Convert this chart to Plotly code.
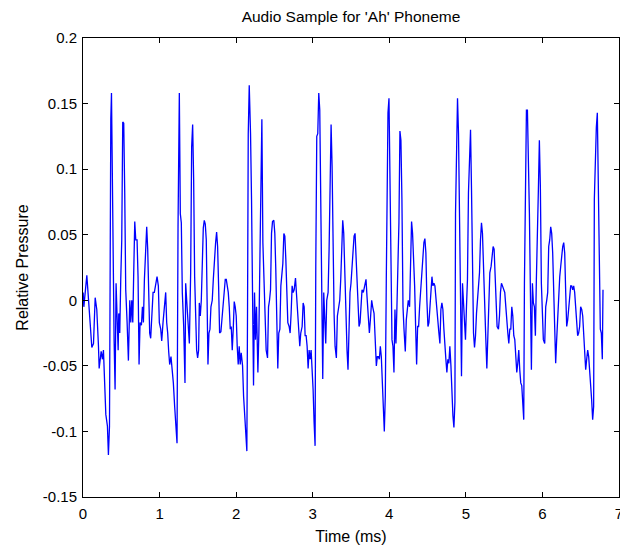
import plotly.graph_objects as go

# Time (ms) and relative pressure, in five windows
time_a = [0.002, 0.011, 0.050, 0.072, 0.093, 0.115, 0.137, 0.159, 0.180, 0.202, 0.211, 0.237, 0.254, 0.267, 0.280,
          0.298, 0.319, 0.332, 0.346, 0.354, 0.363, 0.372, 0.380, 0.393, 0.406, 0.419, 0.432, 0.445, 0.459, 0.467,
          0.480, 0.493, 0.506, 0.519, 0.532, 0.545, 0.558, 0.576, 0.593, 0.611, 0.624, 0.637, 0.650, 0.663, 0.676,
          0.689, 0.706, 0.719, 0.732, 0.745, 0.763, 0.776, 0.789, 0.802, 0.815, 0.832, 0.845, 0.858, 0.871, 0.884,
          0.897, 0.915, 0.932, 0.945, 0.967, 0.984, 0.997, 1.015, 1.028, 1.045, 1.063, 1.080, 1.093, 1.106, 1.119,
          1.132, 1.149, 1.163, 1.180, 1.197, 1.215, 1.228, 1.241, 1.250, 1.258, 1.271, 1.284, 1.297, 1.315, 1.332,
          1.341, 1.354, 1.367]
pres_a = [0.006, -0.005, 0.019, 0.004, -0.017, -0.036, -0.033, 0.002, -0.007, -0.035, -0.052, -0.039, -0.045, -0.038, -0.060,
          -0.087, -0.096, -0.118, -0.096, 0.102, 0.138, 0.158, 0.105, 0.046, -0.030, -0.068, 0.013, -0.012, -0.038, -0.010,
          -0.025, 0.016, 0.046, 0.136, 0.135, 0.082, 0.008, -0.017, -0.046, 0.000, -0.017, 0.000, -0.017, 0.023, 0.060,
          0.046, 0.046, 0.018, -0.049, -0.017, -0.019, -0.005, -0.017, 0.016, 0.039, 0.056, 0.039, 0.013, -0.025, -0.029,
          -0.017, 0.006, 0.006, 0.011, 0.018, 0.011, -0.017, -0.022, -0.031, -0.017, -0.002, 0.006, -0.017, -0.025, -0.039,
          -0.049, -0.043, -0.052, -0.063, -0.081, -0.099, -0.109, 0.056, 0.125, 0.158, 0.066, 0.059, 0.006, -0.020, -0.063,
          0.013, 0.000, -0.012]

time_b = [1.389, 1.406, 1.419, 1.432, 1.445, 1.458, 1.471, 1.484, 1.497, 1.510, 1.519, 1.532, 1.545, 1.558, 1.571,
          1.584, 1.597, 1.610, 1.619, 1.632, 1.645, 1.658, 1.671, 1.688, 1.702, 1.715, 1.732, 1.745, 1.758, 1.771,
          1.784, 1.801, 1.814, 1.827, 1.840, 1.858, 1.871, 1.884, 1.897, 1.910, 1.923, 1.936, 1.949, 1.962, 1.975,
          1.988, 2.001, 2.014, 2.027, 2.040, 2.053, 2.066, 2.084, 2.097, 2.114, 2.127, 2.140, 2.149, 2.158, 2.171,
          2.188, 2.201, 2.214, 2.227, 2.240, 2.253, 2.266, 2.284, 2.297, 2.310, 2.323, 2.336, 2.349, 2.366, 2.379,
          2.392, 2.410, 2.423, 2.436, 2.449, 2.462, 2.475, 2.492, 2.505, 2.518, 2.531, 2.544, 2.557, 2.571, 2.584,
          2.597, 2.610, 2.623, 2.636, 2.649, 2.662, 2.675, 2.692, 2.705, 2.718, 2.731, 2.744]
pres_b = [-0.033, 0.021, 0.117, 0.134, 0.092, 0.018, -0.017, -0.038, -0.044, -0.038, -0.002, -0.012, 0.000, 0.041, 0.055,
          0.061, 0.058, 0.046, 0.016, -0.049, -0.025, -0.022, -0.005, 0.000, 0.016, 0.034, 0.044, 0.052, 0.041, 0.011,
          -0.025, -0.024, -0.016, -0.002, 0.006, 0.016, 0.016, 0.011, 0.006, -0.005, -0.022, -0.020, -0.038, -0.022, -0.001,
          -0.005, -0.012, -0.035, -0.049, -0.035, -0.049, -0.040, -0.050, -0.073, -0.093, -0.109, -0.115, -0.005, 0.127, 0.164,
          0.127, 0.077, 0.011, -0.065, 0.006, -0.030, -0.005, -0.055, -0.025, 0.036, 0.105, 0.138, 0.044, 0.006, -0.025,
          -0.038, -0.044, -0.005, 0.000, 0.008, 0.051, 0.060, 0.061, 0.051, 0.023, -0.027, -0.052, -0.025, -0.022, 0.011,
          0.023, 0.028, 0.051, 0.049, 0.031, 0.000, -0.017, -0.020, -0.025, -0.010, 0.011, 0.006]

time_c = [2.758, 2.775, 2.788, 2.801, 2.814, 2.831, 2.844, 2.862, 2.875, 2.888, 2.901, 2.914, 2.927, 2.940, 2.953,
          2.966, 2.979, 2.992, 3.005, 3.018, 3.031, 3.040, 3.053, 3.066, 3.079, 3.092, 3.105, 3.118, 3.131, 3.144,
          3.157, 3.170, 3.183, 3.201, 3.214, 3.227, 3.240, 3.253, 3.266, 3.279, 3.292, 3.309, 3.322, 3.335, 3.353,
          3.366, 3.379, 3.392, 3.405, 3.418, 3.435, 3.448, 3.461, 3.474, 3.487, 3.500, 3.513, 3.527, 3.540, 3.553,
          3.566, 3.579, 3.592, 3.605, 3.618, 3.631, 3.644, 3.661, 3.679, 3.696, 3.709, 3.722, 3.740, 3.753, 3.770,
          3.783, 3.801, 3.814, 3.831, 3.844, 3.857, 3.870, 3.883, 3.896, 3.909, 3.922, 3.935, 3.948, 3.961, 3.970,
          3.983, 3.996, 4.009, 4.022, 4.035, 4.048, 4.061]
pres_c = [0.008, 0.017, 0.006, -0.010, -0.024, -0.035, -0.025, -0.020, -0.002, -0.005, -0.027, -0.027, -0.035, -0.052, -0.038,
          -0.045, -0.038, -0.050, -0.068, -0.093, -0.111, 0.026, 0.125, 0.127, 0.158, 0.145, 0.079, 0.003, -0.060, 0.006,
          -0.015, -0.033, 0.000, 0.006, 0.039, 0.100, 0.134, 0.102, 0.039, -0.010, -0.035, -0.044, -0.012, -0.005, 0.000,
          0.016, 0.046, 0.061, 0.051, 0.021, -0.017, -0.038, -0.053, -0.017, 0.006, 0.013, 0.026, 0.039, 0.049, 0.051,
          0.031, 0.013, -0.012, -0.020, -0.017, -0.002, 0.008, 0.006, 0.011, 0.016, 0.003, -0.010, -0.025, -0.015, 0.000,
          -0.005, -0.010, -0.027, -0.050, -0.043, -0.043, -0.045, -0.035, -0.043, -0.058, -0.081, -0.100, -0.073, 0.016, 0.107,
          0.143, 0.154, 0.100, 0.036, -0.030, -0.035, -0.055]

time_d = [4.074, 4.087, 4.100, 4.113, 4.126, 4.139, 4.152, 4.165, 4.179, 4.192, 4.209, 4.222, 4.235, 4.248, 4.265,
          4.278, 4.291, 4.304, 4.318, 4.331, 4.344, 4.357, 4.370, 4.383, 4.396, 4.409, 4.426, 4.439, 4.452, 4.465,
          4.478, 4.491, 4.505, 4.518, 4.531, 4.544, 4.557, 4.570, 4.583, 4.596, 4.609, 4.622, 4.635, 4.648, 4.661,
          4.674, 4.687, 4.700, 4.713, 4.726, 4.739, 4.752, 4.765, 4.778, 4.791, 4.805, 4.818, 4.831, 4.844, 4.857,
          4.865, 4.878, 4.891, 4.904, 4.917, 4.930, 4.943, 4.956, 4.969, 4.982, 4.995, 5.008, 5.021, 5.034, 5.048,
          5.061, 5.074, 5.087, 5.100, 5.113, 5.126, 5.139, 5.152, 5.165, 5.178, 5.191, 5.204, 5.217, 5.230, 5.248,
          5.261, 5.274, 5.287, 5.300, 5.313, 5.330, 5.343, 5.356, 5.369, 5.382, 5.395, 5.408, 5.426, 5.439, 5.452,
          5.465, 5.478]
pres_d = [-0.007, -0.033, -0.005, 0.023, 0.059, 0.129, 0.122, 0.077, -0.005, -0.022, -0.039, -0.015, -0.007, 0.000, -0.005,
          0.036, 0.060, 0.051, 0.034, 0.011, -0.020, -0.049, -0.020, -0.020, -0.005, 0.006, 0.023, 0.034, 0.044, 0.047,
          0.036, 0.000, -0.020, -0.017, -0.005, 0.011, 0.018, 0.011, 0.013, 0.011, 0.000, -0.010, -0.017, -0.025, -0.033,
          -0.007, -0.002, -0.007, -0.022, -0.038, -0.045, -0.055, -0.045, -0.048, -0.035, -0.050, -0.073, -0.088, -0.097, -0.078,
          0.066, 0.120, 0.154, 0.127, 0.059, -0.012, -0.058, 0.013, 0.000, -0.015, -0.030, -0.005, 0.016, 0.082, 0.112,
          0.130, 0.084, 0.016, -0.025, -0.036, -0.027, -0.010, 0.003, 0.011, 0.021, 0.046, 0.059, 0.051, 0.021, -0.015,
          -0.030, -0.052, -0.030, -0.012, 0.021, 0.026, 0.036, 0.041, 0.039, 0.016, -0.005, -0.020, -0.022, -0.012, 0.006,
          0.013, 0.011]

time_e = [5.495, 5.508, 5.522, 5.535, 5.548, 5.561, 5.574, 5.587, 5.600, 5.613, 5.626, 5.639, 5.652, 5.665, 5.678,
          5.691, 5.704, 5.717, 5.730, 5.743, 5.756, 5.765, 5.778, 5.791, 5.804, 5.817, 5.830, 5.843, 5.856, 5.869,
          5.882, 5.895, 5.908, 5.921, 5.934, 5.947, 5.960, 5.973, 5.986, 5.999, 6.012, 6.030, 6.043, 6.056, 6.069,
          6.082, 6.095, 6.108, 6.121, 6.134, 6.147, 6.160, 6.173, 6.186, 6.200, 6.213, 6.226, 6.239, 6.252, 6.265,
          6.278, 6.291, 6.304, 6.317, 6.330, 6.343, 6.356, 6.369, 6.382, 6.395, 6.408, 6.421, 6.434, 6.447, 6.460,
          6.473, 6.486, 6.499, 6.513, 6.526, 6.539, 6.552, 6.565, 6.578, 6.591, 6.604, 6.617, 6.630, 6.643, 6.656,
          6.669, 6.678, 6.691, 6.704, 6.717, 6.730, 6.743, 6.756, 6.769, 6.782, 6.791]
pres_e = [0.008, 0.006, -0.005, -0.020, -0.025, -0.033, -0.022, -0.022, -0.005, -0.012, -0.027, -0.030, -0.040, -0.055, -0.048,
          -0.038, -0.053, -0.063, -0.065, -0.076, -0.091, 0.013, 0.117, 0.145, 0.145, 0.115, 0.066, 0.006, -0.053, 0.013,
          -0.002, -0.005, -0.027, 0.016, 0.044, 0.084, 0.122, 0.087, 0.013, -0.017, -0.030, -0.033, -0.005, 0.000, 0.006,
          0.041, 0.046, 0.056, 0.051, 0.036, 0.006, -0.030, -0.048, -0.030, -0.012, 0.006, 0.018, 0.026, 0.034, 0.041,
          0.044, 0.036, 0.006, -0.020, -0.015, -0.005, 0.006, 0.011, 0.011, 0.008, 0.011, 0.006, -0.005, -0.015, -0.027,
          -0.025, -0.020, -0.005, -0.007, -0.012, -0.025, -0.038, -0.053, -0.045, -0.038, -0.043, -0.053, -0.065, -0.076, -0.091,
          -0.081, 0.077, 0.115, 0.132, 0.143, 0.097, 0.039, -0.022, -0.025, -0.045, 0.008]

y_tick_vals = [0.2, 0.15, 0.1, 0.05, 0, -0.05, -0.1, -0.15]
y_tick_text = ["0.2", "0.15", "0.1", "0.05", "0", "-0.05", "-0.1", "-0.15"]
x_tick_vals = [0, 1, 2, 3, 4, 5, 6, 7]

time_ms = time_a + time_b + time_c + time_d + time_e
pressure = pres_a + pres_b + pres_c + pres_d + pres_e

FONT = "Liberation Sans, Arial, sans-serif"

# The page body adds an 8 px offset, so the figure is 8 px smaller than the window on each axis.
W, H = 620, 538
fig = go.Figure(go.Scatter(x=time_ms, y=pressure, mode="lines",
                           line=dict(color="#0000FF", width=1.3), hoverinfo="skip"))

fig.update_layout(
    width=W, height=H,
    margin=dict(l=74.5, r=8.5, t=30, b=48.5, autoexpand=False),
    paper_bgcolor="white", plot_bgcolor="white",
    showlegend=False,
    font=dict(family=FONT, size=15, color="black"),
    title=dict(text="Audio Sample for 'Ah' Phoneme", x=343 / W, xanchor="center",
               y=1 - 9 / H, yanchor="middle", yref="container", automargin=False,
               font=dict(family=FONT, size=15.5, color="black")),
)
fig.update_xaxes(range=[0, 7], tickvals=x_tick_vals, ticks="inside", ticklen=5, tickcolor="black",
                 showline=True, linecolor="black", linewidth=1, mirror="ticks", showgrid=False, zeroline=False,
                 automargin=False, ticklabelstandoff=3,
                 title=dict(text="Time (ms)", standoff=9, font=dict(size=16)), tickfont=dict(size=15))
fig.update_yaxes(range=[-0.15, 0.2], tickvals=y_tick_vals, ticktext=y_tick_text, ticks="inside", ticklen=5,
                 tickcolor="black", showline=True, linecolor="black", linewidth=1, mirror="ticks",
                 showgrid=False, zeroline=False, automargin=False, ticklabelstandoff=2,
                 title=dict(text="Relative Pressure", standoff=10, font=dict(size=16)), tickfont=dict(size=15))

fig.write_html("out.html")
